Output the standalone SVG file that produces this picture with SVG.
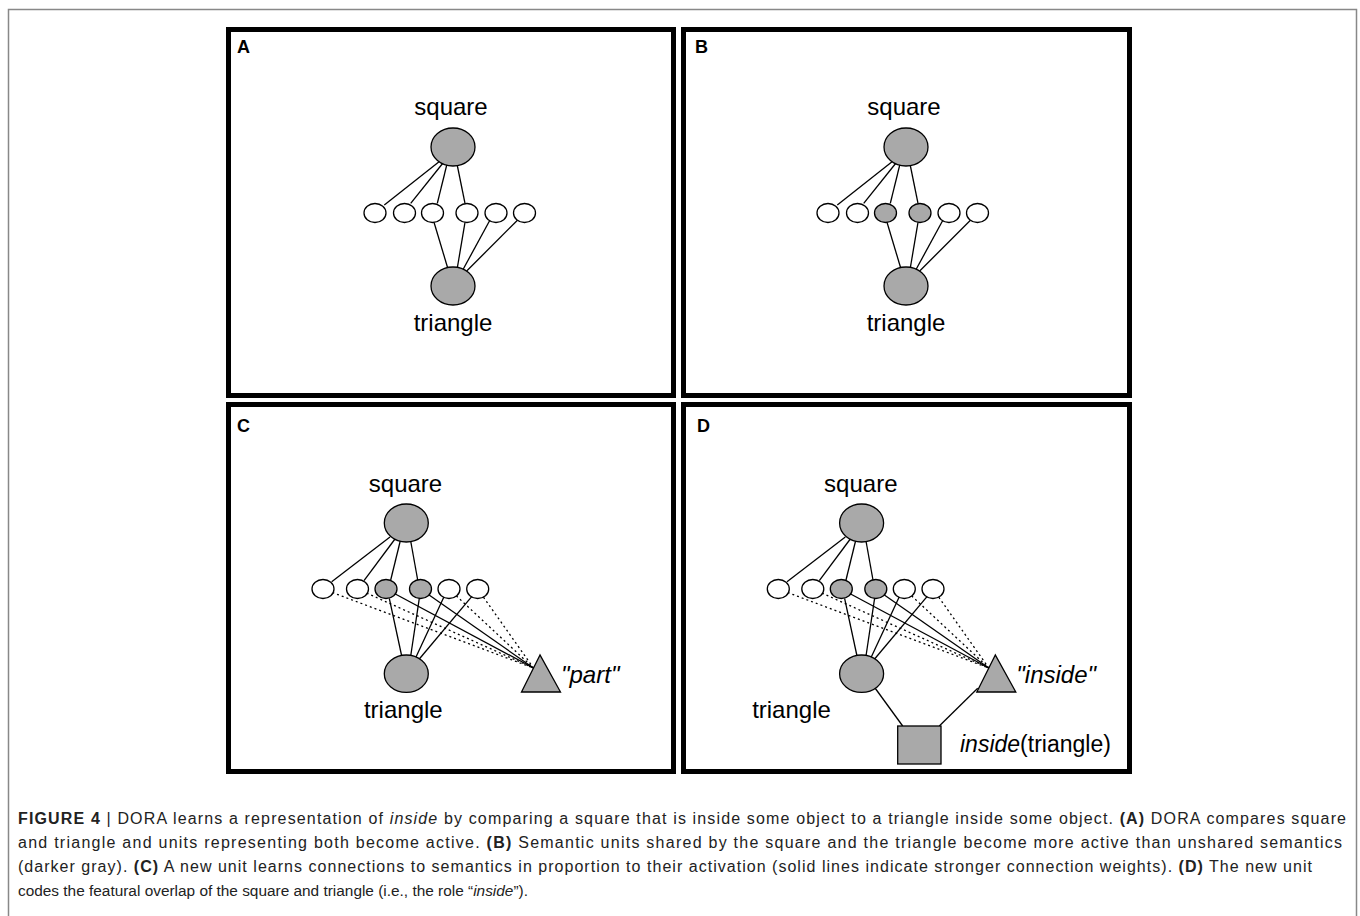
<svg xmlns="http://www.w3.org/2000/svg" width="1360" height="916" viewBox="0 0 1360 916">
<style>
.frame{fill:none;stroke:#000;stroke-width:5}
.lbl{font-family:"Liberation Sans",Arial,sans-serif;font-weight:bold;font-size:18px;fill:#000}
.t{font-family:"Liberation Sans",Arial,sans-serif;font-size:24px;fill:#000}
.node{fill:#a9a9a9;stroke:#000;stroke-width:1.3}
.sem{fill:#fff;stroke:#000;stroke-width:1.3}
.semg{fill:#a9a9a9;stroke:#000;stroke-width:1.3}
.ln{stroke:#000;stroke-width:1.3;fill:none}
.dt{stroke:#000;stroke-width:1.3;fill:none;stroke-dasharray:2 3}
.cap{font-family:"Liberation Sans",Arial,sans-serif;font-size:16px;fill:#222}
</style>
<rect width="1360" height="916" fill="#fff"/>
<path d="M8.5,916 V9.5 H1356.5 V916" fill="none" stroke="#888" stroke-width="1.5"/>

<!-- Panel A -->
<g id="panel-A">
<rect class="frame" x="228.5" y="29.5" width="445" height="366"/>
<text class="lbl" x="237" y="53">A</text>
<g id="A-connectors">
<line class="ln" x1="440" y1="161" x2="384.3" y2="205"/>
<line class="ln" x1="443" y1="163" x2="410.7" y2="203.3"/>
<line class="ln" x1="447" y1="164" x2="437.3" y2="203.3"/>
<line class="ln" x1="457" y1="164" x2="465" y2="203.3"/>
<line class="ln" x1="434" y1="222.3" x2="447.7" y2="268"/>
<line class="ln" x1="465" y1="222.3" x2="457.3" y2="268"/>
<line class="ln" x1="490" y1="220" x2="463.3" y2="269"/>
<line class="ln" x1="517.7" y1="220" x2="466.7" y2="271"/>
</g>
<g id="A-square"><ellipse class="node" cx="453" cy="147" rx="22" ry="19"/><text class="t" x="451" y="115" text-anchor="middle">square</text></g>
<g id="A-triangle"><ellipse class="node" cx="453" cy="286" rx="22" ry="19"/><text class="t" x="453" y="331" text-anchor="middle">triangle</text></g>
<g id="A-sem1"><ellipse class="sem" cx="375" cy="213" rx="11" ry="9.5"/></g>
<g id="A-sem2"><ellipse class="sem" cx="404.5" cy="213" rx="11" ry="9.5"/></g>
<g id="A-sem3"><ellipse class="sem" cx="432.5" cy="213" rx="11" ry="9.5"/></g>
<g id="A-sem4"><ellipse class="sem" cx="467" cy="213" rx="11" ry="9.5"/></g>
<g id="A-sem5"><ellipse class="sem" cx="496" cy="213" rx="11" ry="9.5"/></g>
<g id="A-sem6"><ellipse class="sem" cx="524.5" cy="213" rx="11" ry="9.5"/></g>
</g>

<!-- Panel B -->
<g id="panel-B">
<rect class="frame" x="683.5" y="29.5" width="446" height="366"/>
<text class="lbl" x="695" y="53">B</text>
<g transform="translate(453,0)">
<g id="B-connectors">
<line class="ln" x1="440" y1="161" x2="384.3" y2="205"/>
<line class="ln" x1="443" y1="163" x2="410.7" y2="203.3"/>
<line class="ln" x1="447" y1="164" x2="437.3" y2="203.3"/>
<line class="ln" x1="457" y1="164" x2="465" y2="203.3"/>
<line class="ln" x1="434" y1="222.3" x2="447.7" y2="268"/>
<line class="ln" x1="465" y1="222.3" x2="457.3" y2="268"/>
<line class="ln" x1="490" y1="220" x2="463.3" y2="269"/>
<line class="ln" x1="517.7" y1="220" x2="466.7" y2="271"/>
</g>
<g id="B-square"><ellipse class="node" cx="453" cy="147" rx="22" ry="19"/><text class="t" x="451" y="115" text-anchor="middle">square</text></g>
<g id="B-triangle"><ellipse class="node" cx="453" cy="286" rx="22" ry="19"/><text class="t" x="453" y="331" text-anchor="middle">triangle</text></g>
<g id="B-sem1"><ellipse class="sem" cx="375" cy="213" rx="11" ry="9.5"/></g>
<g id="B-sem2"><ellipse class="sem" cx="404.5" cy="213" rx="11" ry="9.5"/></g>
<g id="B-sem3"><ellipse class="semg" cx="432.5" cy="213" rx="11" ry="9.5"/></g>
<g id="B-sem4"><ellipse class="semg" cx="467" cy="213" rx="11" ry="9.5"/></g>
<g id="B-sem5"><ellipse class="sem" cx="496" cy="213" rx="11" ry="9.5"/></g>
<g id="B-sem6"><ellipse class="sem" cx="524.5" cy="213" rx="11" ry="9.5"/></g>
</g>
</g>

<!-- Panel C -->
<g id="panel-C">
<rect class="frame" x="228.5" y="404.5" width="445" height="367"/>
<text class="lbl" x="237" y="432">C</text>
<g id="C-connectors">
<line class="dt" x1="323" y1="589" x2="533.5" y2="668"/>
<line class="dt" x1="357.5" y1="589" x2="533.5" y2="668"/>
<line class="dt" x1="449" y1="589" x2="533.5" y2="668"/>
<line class="dt" x1="477.7" y1="589" x2="533.5" y2="668"/>
<line class="ln" x1="386" y1="589" x2="533.5" y2="668"/>
<line class="ln" x1="420.5" y1="589" x2="533.5" y2="668"/>
<line class="ln" x1="390" y1="537" x2="331.7" y2="581.7"/>
<line class="ln" x1="395" y1="539" x2="364" y2="580.7"/>
<line class="ln" x1="400.5" y1="540" x2="390.7" y2="580"/>
<line class="ln" x1="410.5" y1="540" x2="417.7" y2="580"/>
<line class="ln" x1="389.3" y1="598.3" x2="401.7" y2="656"/>
<line class="ln" x1="419.3" y1="598.3" x2="410.7" y2="656"/>
<line class="ln" x1="444" y1="596.7" x2="416" y2="657"/>
<line class="ln" x1="471.7" y1="596.7" x2="419.3" y2="659"/>
</g>
<g id="C-square"><ellipse class="node" cx="406.3" cy="523" rx="22" ry="19"/><text class="t" x="405.5" y="492" text-anchor="middle">square</text></g>
<g id="C-triangle"><ellipse class="node" cx="406.3" cy="673.7" rx="22" ry="18.7"/><text class="t" x="403.3" y="718" text-anchor="middle">triangle</text></g>
<g id="C-sem1"><ellipse class="sem" cx="323" cy="589" rx="11" ry="9.5"/></g>
<g id="C-sem2"><ellipse class="sem" cx="357.5" cy="589" rx="11" ry="9.5"/></g>
<g id="C-sem3"><ellipse class="semg" cx="386" cy="589" rx="11" ry="9.5"/></g>
<g id="C-sem4"><ellipse class="semg" cx="420.5" cy="589" rx="11" ry="9.5"/></g>
<g id="C-sem5"><ellipse class="sem" cx="449" cy="589" rx="11" ry="9.5"/></g>
<g id="C-sem6"><ellipse class="sem" cx="477.7" cy="589" rx="11" ry="9.5"/></g>
<g id="C-part"><polygon class="node" points="540,655 521.5,692 560.5,692"/><text class="t" x="561" y="683" font-style="italic">"part"</text></g>
</g>

<!-- Panel D -->
<g id="panel-D">
<rect class="frame" x="683.5" y="404.5" width="446" height="367"/>
<text class="lbl" x="697" y="432">D</text>
<g transform="translate(455.3,0)">
<g id="D-connectors">
<line class="dt" x1="323" y1="589" x2="533.5" y2="668"/>
<line class="dt" x1="357.5" y1="589" x2="533.5" y2="668"/>
<line class="dt" x1="449" y1="589" x2="533.5" y2="668"/>
<line class="dt" x1="477.7" y1="589" x2="533.5" y2="668"/>
<line class="ln" x1="386" y1="589" x2="533.5" y2="668"/>
<line class="ln" x1="420.5" y1="589" x2="533.5" y2="668"/>
<line class="ln" x1="390" y1="537" x2="331.7" y2="581.7"/>
<line class="ln" x1="395" y1="539" x2="364" y2="580.7"/>
<line class="ln" x1="400.5" y1="540" x2="390.7" y2="580"/>
<line class="ln" x1="410.5" y1="540" x2="417.7" y2="580"/>
<line class="ln" x1="389.3" y1="598.3" x2="401.7" y2="656"/>
<line class="ln" x1="419.3" y1="598.3" x2="410.7" y2="656"/>
<line class="ln" x1="444" y1="596.7" x2="416" y2="657"/>
<line class="ln" x1="471.7" y1="596.7" x2="419.3" y2="659"/>
<line class="ln" x1="419" y1="687" x2="447.4" y2="726"/>
<line class="ln" x1="484" y1="726" x2="522.4" y2="688.3"/>
</g>
<g id="D-square"><ellipse class="node" cx="406.3" cy="523" rx="22" ry="19"/><text class="t" x="405.5" y="492" text-anchor="middle">square</text></g>
<g id="D-triangle"><ellipse class="node" cx="406.3" cy="673.7" rx="22" ry="18.7"/><text class="t" x="336.2" y="718" text-anchor="middle">triangle</text></g>
<g id="D-sem1"><ellipse class="sem" cx="323" cy="589" rx="11" ry="9.5"/></g>
<g id="D-sem2"><ellipse class="sem" cx="357.5" cy="589" rx="11" ry="9.5"/></g>
<g id="D-sem3"><ellipse class="semg" cx="386" cy="589" rx="11" ry="9.5"/></g>
<g id="D-sem4"><ellipse class="semg" cx="420.5" cy="589" rx="11" ry="9.5"/></g>
<g id="D-sem5"><ellipse class="sem" cx="449" cy="589" rx="11" ry="9.5"/></g>
<g id="D-sem6"><ellipse class="sem" cx="477.7" cy="589" rx="11" ry="9.5"/></g>
<g id="D-inside"><polygon class="node" points="540,655 521.5,692 560.5,692"/><text class="t" x="561" y="683" font-style="italic">"inside"</text></g>
<g id="D-inside-triangle"><rect class="node" x="442.4" y="726" width="43.3" height="38"/><text class="t" x="504.7" y="752" style="font-size:23px"><tspan font-style="italic">inside</tspan>(triangle)</text></g>
</g>
</g>

<!-- Caption -->
<g id="caption">
<text class="cap" x="18" y="824" textLength="1328" lengthAdjust="spacing"><tspan font-weight="bold">FIGURE 4</tspan> | DORA learns a representation of <tspan font-style="italic">inside</tspan> by comparing a square that is inside some object to a triangle inside some object. <tspan font-weight="bold">(A)</tspan> DORA compares square</text>
<text class="cap" x="18" y="848" textLength="1324" lengthAdjust="spacing">and triangle and units representing both become active. <tspan font-weight="bold">(B)</tspan> Semantic units shared by the square and the triangle become more active than unshared semantics</text>
<text class="cap" x="18" y="872" textLength="1294" lengthAdjust="spacing">(darker gray). <tspan font-weight="bold">(C)</tspan> A new unit learns connections to semantics in proportion to their activation (solid lines indicate stronger connection weights). <tspan font-weight="bold">(D)</tspan> The new unit</text>
<text class="cap" x="18" y="896" style="font-size:15.4px">codes the featural overlap of the square and triangle (i.e., the role “<tspan font-style="italic">inside</tspan>”).</text>
</g>
</svg>
